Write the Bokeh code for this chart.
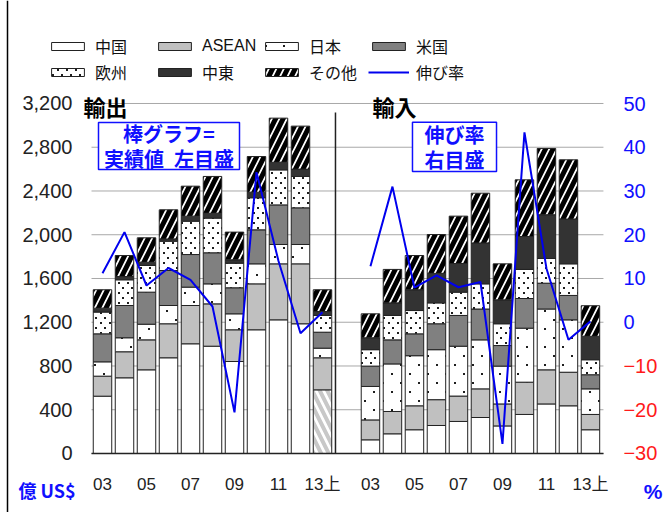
from bokeh.plotting import figure
from bokeh.models import (Range1d, LinearAxis, FixedTicker, CustomJSTickFormatter, BoxAnnotation,
                          Legend, LegendItem, Label, ColumnDataSource, Span, ImageURLTexture)
from bokeh.core.properties import value
from bokeh.embed import file_html
from bokeh.resources import INLINE
import numpy as np
import zlib, struct, base64

# ---------------- data (億US$, %) ----------------
years = ["03", "04", "05", "06", "07", "08", "09", "10", "11", "12", "13上"]
regions = ["中国", "ASEAN", "日本", "米国", "欧州", "中東", "その他"]

exp_china = [524, 692, 765, 875, 1003, 981, 841, 1131, 1222, 1186, 582]
exp_asean = [183, 238, 274, 311, 350, 387, 290, 420, 512, 548, 293]
exp_japan = [131, 128, 143, 167, 168, 183, 146, 183, 177, 177, 88]
exp_us = [256, 295, 293, 320, 298, 284, 238, 311, 362, 335, 146]
exp_europe = [199, 235, 244, 268, 305, 317, 225, 293, 320, 287, 153]
exp_me = [36, 30, 30, 21, 46, 45, 31, 51, 70, 67, 36]
exp_other = [168, 192, 223, 266, 274, 336, 253, 326, 403, 393, 199]
exp_growth = [11.2, 20.6, 8.4, 12.4, 9.7, 3.6, -20.6, 34.3, 14.0, -2.5, 2.3]

imp_china = [125, 180, 217, 256, 293, 329, 252, 357, 453, 436, 217]
imp_asean = [182, 204, 219, 236, 232, 262, 201, 295, 312, 307, 140]
imp_japan = [306, 435, 458, 457, 456, 448, 346, 494, 556, 479, 234]
imp_us = [186, 220, 200, 237, 281, 282, 188, 271, 236, 223, 129]
imp_europe = [150, 223, 213, 191, 213, 230, 199, 266, 226, 289, 137]
imp_me = [109, 115, 190, 270, 262, 374, 219, 301, 400, 410, 215]
imp_other = [219, 306, 313, 355, 433, 455, 329, 518, 606, 541, 279]
imp_growth = [12.8, 31.0, 7.9, 10.7, 8.0, 9.2, -27.8, 43.4, 12.3, -4.0, 0.2]

left_ticks = [0, 400, 800, 1200, 1600, 2000, 2400, 2800, 3200]
pos_pct_ticks = [0, 10, 20, 30, 40, 50]
neg_pct_ticks = [-30, -20, -10]

exports = [exp_china, exp_asean, exp_japan, exp_us, exp_europe, exp_me, exp_other]
imports = [imp_china, imp_asean, imp_japan, imp_us, imp_europe, imp_me, imp_other]

# ---------------- layout ----------------
IMP_OFFSET = 12.18
exp_x = np.arange(len(years), dtype=float)
imp_x = exp_x + IMP_OFFSET
BAR_W = 0.84
PLOT_X0, PLOT_X1 = -0.5, 22.77          # edges of the plotting area (category units)

FONT = "Liberation Sans, Noto Sans CJK JP"
CJK = "Noto Sans CJK JP"
BLUE = "#1010ff"
RED = "#ff1a1a"


def dot_tile(w, h, dots, rgb=(30, 30, 30)):
    """Small transparent PNG tile with 2x2 dots, used as a fill texture."""
    px = set()
    for (dx, dy) in dots:
        for a in (0, 1):
            for b in (0, 1):
                px.add((dx + a, dy + b))
    raw = b""
    for y in range(h):
        row = bytearray([0])
        for x in range(w):
            row += bytes([*rgb, 255]) if (x, y) in px else bytes([0, 0, 0, 0])
        raw += bytes(row)

    def chunk(t, d):
        return struct.pack(">I", len(d)) + t + d + struct.pack(">I", zlib.crc32(t + d) & 0xFFFFFFFF)

    png = (b"\x89PNG\r\n\x1a\n" + chunk(b"IHDR", struct.pack(">IIBBBBB", w, h, 8, 6, 0, 0, 0))
           + chunk(b"IDAT", zlib.compress(raw)) + chunk(b"IEND", b""))
    return "data:image/png;base64," + base64.b64encode(png).decode()


textures = {
    "sparse": ImageURLTexture(url=dot_tile(18, 18, [(4, 4), (13, 13)])),
    "dense": ImageURLTexture(url=dot_tile(9, 10, [(1, 2), (5, 7)])),
}

# the frame spans the whole canvas; the ranges extend past the plotting area
p = figure(width=670, height=512, output_backend="svg", toolbar_location=None,
           x_range=Range1d(-4.6364, 25.8182), y_range=Range1d(-539.43, 4141.71),
           min_border=0)
p.outline_line_color = None
p.xgrid.visible = False
p.ygrid.visible = False
p.background_fill_color = "white"
p.border_fill_color = "white"

# page border line at the left
p.add_layout(Span(location=-4.318, dimension="height", line_color="black", line_width=1.5))

# horizontal gridlines limited to the plotting area
p.segment(x0=PLOT_X0, x1=PLOT_X1, y0=left_ticks, y1=left_ticks, line_color="#a8a8a8", line_width=1)

# left axis
p.yaxis.fixed_location = PLOT_X0
p.yaxis.ticker = FixedTicker(ticks=left_ticks)
p.yaxis.formatter = CustomJSTickFormatter(code="return tick.toLocaleString('en-US');")
p.yaxis.axis_line_color = None
p.yaxis.major_tick_line_color = None
p.yaxis.minor_tick_line_color = None
p.yaxis.major_tick_out = 0
p.yaxis.major_tick_in = 0
p.yaxis.major_label_standoff = 19
p.yaxis.major_label_text_font = FONT
p.yaxis.major_label_text_font_size = "20px"
p.yaxis.major_label_text_color = "#222222"

# bottom axis
xt = [float(v) for v in list(exp_x[::2]) + list(imp_x[::2])]
xl = years[::2] + years[::2]
p.xaxis.fixed_location = 0
p.xaxis.bounds = (PLOT_X0, PLOT_X1)
p.xaxis.ticker = FixedTicker(ticks=xt)
p.xaxis.formatter = CustomJSTickFormatter(args=dict(tv=xt, tl=xl), code="""
const i = tv.findIndex(t => Math.abs(t - tick) < 1e-6);
return i >= 0 ? tl[i] : "";
""")
p.xaxis.axis_line_color = "#222222"
p.xaxis.axis_line_width = 1.5
p.xaxis.major_tick_line_color = None
p.xaxis.minor_tick_line_color = None
p.xaxis.major_tick_out = 0
p.xaxis.major_tick_in = 0
p.xaxis.major_label_standoff = 22
p.xaxis.major_label_text_font = FONT
p.xaxis.major_label_text_font_size = "17px"
p.xaxis.major_label_text_color = "#222222"

# right axes (growth): blue for >= 0, red for negative
p.extra_y_ranges = {"pct": Range1d(-43.486, 73.543)}
for ticks, col in [(pos_pct_ticks, BLUE), (neg_pct_ticks, RED)]:
    ra = LinearAxis(y_range_name="pct", ticker=FixedTicker(ticks=ticks), fixed_location=PLOT_X1)
    ra.axis_line_color = None
    ra.major_tick_line_color = None
    ra.minor_tick_line_color = None
    ra.major_tick_out = 0
    ra.major_tick_in = 0
    ra.major_label_standoff = 20
    ra.major_label_text_font = FONT
    ra.major_label_text_font_size = "20px"
    ra.major_label_text_color = col
    p.add_layout(ra, "right")

# ---------------- bars ----------------
styles = [
    dict(fill_color="white"),
    dict(fill_color="#c0c0c0"),
    dict(fill_color="white", hatch_pattern=value("sparse"), hatch_extra=textures),
    dict(fill_color="#808080"),
    dict(fill_color="white", hatch_pattern=value("dense"), hatch_extra=textures),
    dict(fill_color="#333333"),
    dict(fill_color="white", hatch_pattern="/", hatch_scale=15, hatch_weight=5, hatch_color="black"),
]

legend_renderers = []
for xs, series, is_exp in [(exp_x, exports, True), (imp_x, imports, False)]:
    bottom = np.zeros(len(years))
    for k, vals in enumerate(series):
        top = bottom + np.array(vals, dtype=float)
        data = dict(x=xs, bottom=bottom.copy(), top=top)
        st = dict(styles[k])
        if k == 0 and is_exp:
            # first-half 2013 China segment drawn with light stripes
            data["hp"] = [" "] * (len(years) - 1) + ["\\"]
            st.update(hatch_pattern="hp", hatch_scale=15, hatch_weight=4, hatch_color="#c8c8c8")
        src = ColumnDataSource(data)
        r = p.vbar(x="x", bottom="bottom", top="top", width=BAR_W, source=src,
                   line_color="#222222", line_width=1, **st)
        if is_exp:
            legend_renderers.append(r)
        bottom = top

# separator between panels
sep_x = exp_x[-1] + 0.59
p.segment(x0=[sep_x], y0=[0], x1=[sep_x], y1=[3118], line_color="#222222", line_width=1.5)

# growth lines
le = p.line(exp_x, exp_growth, y_range_name="pct", line_color="#0000ee", line_width=2)
p.line(imp_x, imp_growth, y_range_name="pct", line_color="#0000ee", line_width=2)

# legend
items = [LegendItem(label=regions[k], renderers=[legend_renderers[k]]) for k in range(7)]
items.append(LegendItem(label="伸び率", renderers=[le]))
legend = Legend(items=items, orientation="horizontal", ncols=4, nrows=2,
                location=(47, 428), glyph_width=41, glyph_height=10, label_width=57,
                label_height=19, label_standoff=7, spacing=2, padding=0, margin=0,
                border_line_color=None, background_fill_alpha=0,
                label_text_font=FONT, label_text_font_size="16px", label_text_color="#111111")
p.add_layout(legend, "center")

# titles and notes
p.add_layout(Label(x=-0.86, y=3173, text="輸出", text_baseline="middle", text_font=CJK,
                   text_font_size="22px", text_font_style="bold", text_color="black"))
p.add_layout(Label(x=12.27, y=3173, text="輸入", text_baseline="middle", text_font=CJK,
                   text_font_size="22px", text_font_style="bold", text_color="black"))

p.add_layout(BoxAnnotation(left=-0.182, right=6.227, top=3026, bottom=2597, fill_color="white",
                           fill_alpha=1, line_color=BLUE, line_width=1.5, line_alpha=1))
p.add_layout(BoxAnnotation(left=14.09, right=17.91, top=3029, bottom=2578, fill_color="white",
                           fill_alpha=1, line_color=BLUE, line_width=1.5, line_alpha=1))
for x, y, t in [(3.02, 2926, "棒グラフ="), (3.02, 2697, "実績値\u2002左目盛"),
                (16.0, 2912, "伸び率"), (16.0, 2690, "右目盛")]:
    p.add_layout(Label(x=x, y=y, text=t, text_align="center", text_baseline="middle",
                       text_font=CJK, text_font_size="20px", text_font_style="bold",
                       text_color=BLUE))

p.add_layout(Label(x=-3.82, y=-338, text="億 US$", text_baseline="middle", text_font=CJK,
                   text_font_size="18px", text_font_style="bold", text_color=BLUE))
p.add_layout(Label(x=24.6, y=-350, text="%", text_baseline="middle", text_font=FONT,
                   text_font_size="21px", text_font_style="bold", text_color=BLUE))

open("out.html", "w").write(file_html(p, INLINE))
